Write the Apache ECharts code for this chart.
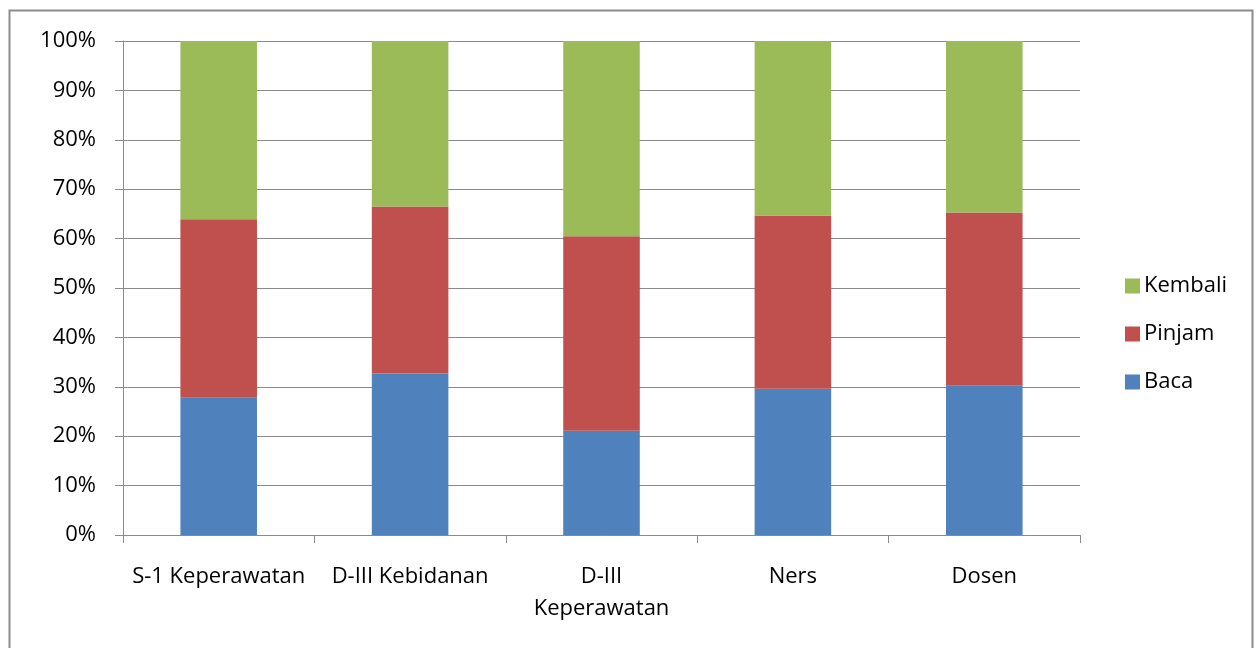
<!DOCTYPE html>
<html>
<head>
<meta charset="utf-8">
<script src="https://cdn.jsdelivr.net/npm/echarts@6/dist/echarts.min.js"></script>
<style>
html,body{margin:0;padding:0;background:#fff;}
#c{width:1258px;height:648px;}
</style>
</head>
<body>
<div id="c"></div>
<script>
const categories = ['S-1 Keperawatan', 'D-III Kebidanan', 'D-III\nKeperawatan', 'Ners', 'Dosen'];
const baca = [27.8, 32.7, 21.1, 29.6, 30.2];
const pinjam = [36.1, 33.8, 39.4, 35.1, 35.1];
const kembali = [36.1, 33.5, 39.5, 35.3, 34.7];
const yTicks = [0, 10, 20, 30, 40, 50, 60, 70, 80, 90, 100];

const FONT = '"Open Sans", "Noto Sans", sans-serif';
const chart = echarts.init(document.getElementById('c'), null, {renderer: 'canvas'});
const gridColor = '#8a8a8a';
chart.setOption({
  animation: false,
  backgroundColor: '#fff',
  graphic: [{
    type: 'rect',
    shape: {x: 9.5, y: 10.5, width: 1243, height: 660},
    style: {fill: 'none', stroke: '#8c8c8c', lineWidth: 2},
    silent: true
  }],
  grid: {left: 123, right: 178, top: 41, bottom: 113},
  legend: {
    orient: 'vertical',
    left: 1120,
    top: 270,
    itemWidth: 15,
    itemHeight: 15,
    itemGap: 26,
    icon: 'rect',
    data: ['Kembali', 'Pinjam', 'Baca'],
    textStyle: {fontFamily: FONT, fontSize: 22, color: '#000', padding: [0, 0, 0, -1]}
  },
  xAxis: {
    type: 'category',
    data: categories,
    axisLine: {lineStyle: {color: gridColor, width: 1}},
    axisTick: {show: true, length: 8, lineStyle: {color: gridColor}},
    axisLabel: {fontFamily: FONT, fontSize: 22, color: '#000', margin: 26, lineHeight: 32, interval: 0}
  },
  yAxis: {
    type: 'value',
    min: yTicks[0],
    max: yTicks[yTicks.length - 1],
    interval: 10,
    axisLine: {show: true, lineStyle: {color: gridColor, width: 1}},
    axisTick: {show: true, length: 8, lineStyle: {color: gridColor}},
    splitLine: {lineStyle: {color: gridColor, width: 1}},
    axisLabel: {fontFamily: FONT, fontSize: 22, color: '#000', margin: 27, formatter: v => v + '%'}
  },
  series: [
    {name: 'Baca', type: 'bar', stack: 's', data: baca, barWidth: '40%', itemStyle: {color: '#4F81BD'}},
    {name: 'Pinjam', type: 'bar', stack: 's', data: pinjam, barWidth: '40%', itemStyle: {color: '#C0504D'}},
    {name: 'Kembali', type: 'bar', stack: 's', data: kembali, barWidth: '40%', itemStyle: {color: '#9BBB59'}}
  ]
});
</script>
</body>
</html>
